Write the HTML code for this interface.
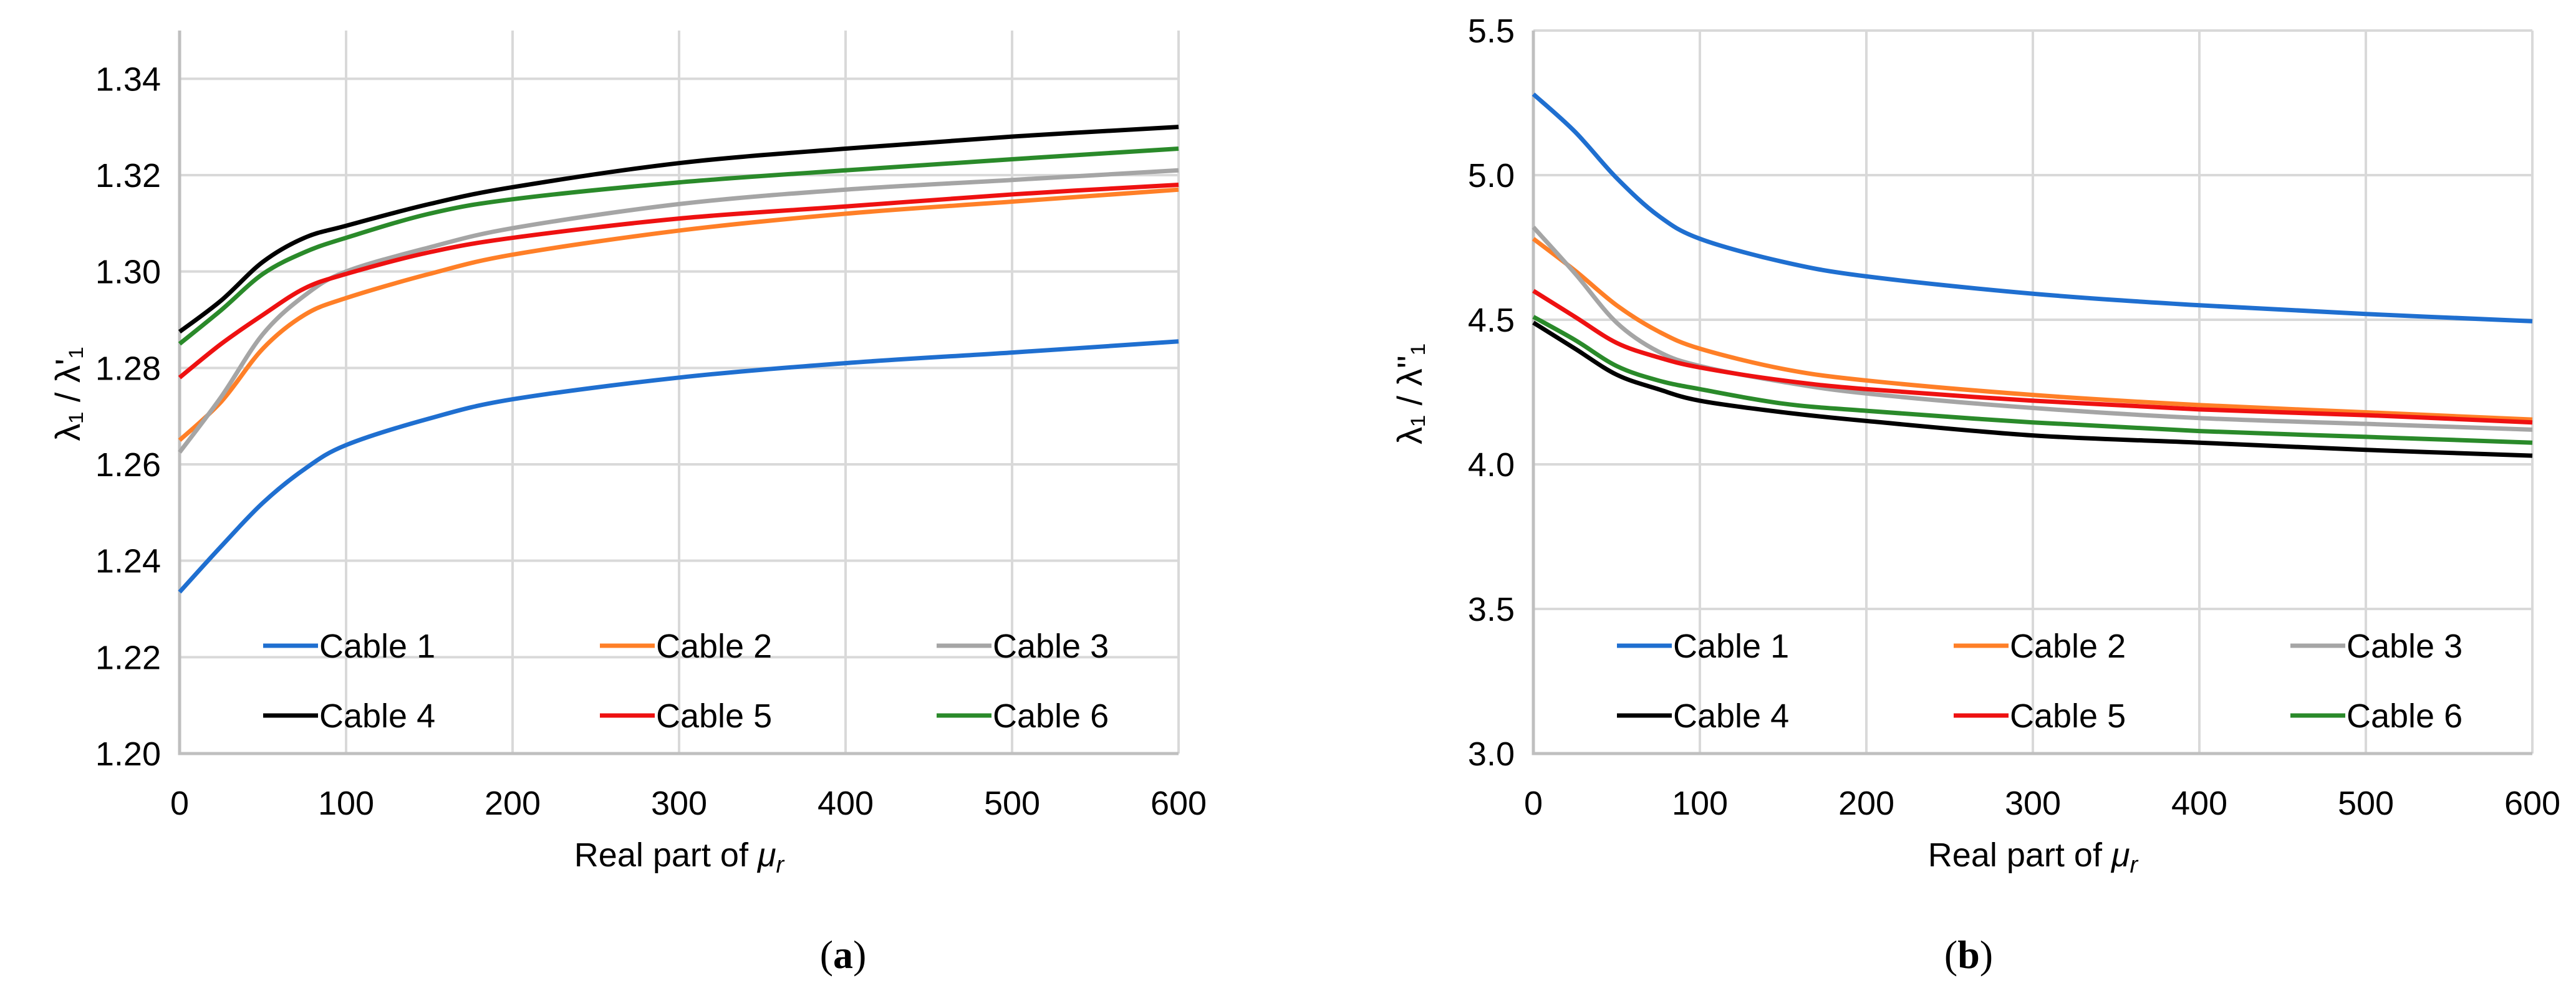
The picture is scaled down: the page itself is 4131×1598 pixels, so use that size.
<!DOCTYPE html>
<html><head><meta charset="utf-8"><style>
html,body{margin:0;padding:0;background:#fff;}
svg{display:block;font-family:"Liberation Sans",sans-serif;}
</style></head><body>
<svg id="fig" width="4131" height="1598" viewBox="0 0 4131 1598" xmlns="http://www.w3.org/2000/svg"></svg>
<script>
const xValues = [0,25,50,75,100,150,200,300,400,500,600];
const seriesNames = ["Cable 1","Cable 2","Cable 3","Cable 4","Cable 5","Cable 6"];
const colors = ["#1f6fd0","#ff7f27","#a5a5a5","#000000","#ee1111","#2a8a2a"];
const aCable1 = [1.2335,1.243,1.252,1.259,1.264,1.2695,1.2735,1.278,1.281,1.2832,1.2855];
const aCable2 = [1.265,1.273,1.284,1.291,1.2945,1.2995,1.3035,1.3085,1.312,1.3145,1.317];
const aCable3 = [1.2625,1.274,1.287,1.295,1.300,1.305,1.309,1.314,1.317,1.319,1.321];
const aCable4 = [1.2875,1.294,1.302,1.307,1.3095,1.314,1.3175,1.3225,1.3255,1.328,1.330];
const aCable5 = [1.278,1.285,1.291,1.2965,1.2995,1.304,1.307,1.311,1.3135,1.316,1.318];
const aCable6 = [1.285,1.292,1.2995,1.304,1.307,1.312,1.315,1.3185,1.321,1.3233,1.3255];
const bCable1 = [5.28,5.15,4.99,4.86,4.78,4.70,4.65,4.59,4.55,4.52,4.495];
const bCable2 = [4.78,4.67,4.55,4.46,4.40,4.33,4.29,4.24,4.205,4.18,4.155];
const bCable3 = [4.82,4.66,4.49,4.39,4.34,4.285,4.245,4.195,4.16,4.14,4.12];
const bCable4 = [4.49,4.40,4.31,4.26,4.22,4.18,4.15,4.10,4.075,4.05,4.03];
const bCable5 = [4.60,4.51,4.42,4.37,4.335,4.29,4.26,4.22,4.19,4.17,4.145];
const bCable6 = [4.51,4.43,4.34,4.29,4.26,4.21,4.185,4.145,4.115,4.095,4.075];
const xTicks = [0,100,200,300,400,500,600];
const aYTicks = ["1.20","1.22","1.24","1.26","1.28","1.30","1.32","1.34"];
const bYTicks = ["3.0","3.5","4.0","4.5","5.0","5.5"];

const NS="http://www.w3.org/2000/svg";
const svg=document.getElementById('fig');
function mk(tag,attrs,parent,text){const e=document.createElementNS(NS,tag);for(const k in attrs)e.setAttribute(k,attrs[k]);if(text!==undefined)e.textContent=text;(parent||svg).appendChild(e);return e;}
function smooth(pts){let d="M"+pts[0][0]+","+pts[0][1];for(let i=0;i<pts.length-1;i++){const p0=pts[i-1]||pts[i],p1=pts[i],p2=pts[i+1],p3=pts[i+2]||p2;const c1=[p1[0]+(p2[0]-p0[0])/6,p1[1]+(p2[1]-p0[1])/6],c2=[p2[0]-(p3[0]-p1[0])/6,p2[1]-(p3[1]-p1[1])/6];d+=" C"+c1[0]+","+c1[1]+" "+c2[0]+","+c2[1]+" "+p2[0]+","+p2[1];}return d;}

function chart(id,L,yMin,yMax,yTop,yTicks,series,yTitleText,yTitleX,panel,panelX){
  const R=L+1602,B=1209,T=49;
  const g=mk('g',{},svg);
  
  
  const sx=v=>L+(v-0)/600*(R-L);
  const sy=v=>B-(v-yMin)/(yTop-yMin)*(B-T);
  // gridlines
  yTicks.forEach(t=>{const v=parseFloat(t);const y=sy(v);
    const gl=mk('line',{x1:L,x2:R,y1:y,y2:y,stroke:"#d9d9d9","stroke-width":4},g);
    
    const tl=mk('text',{x:L-30,y:y+19,"text-anchor":"end","font-size":54,fill:"#000"},g,t);
    
  });
  xTicks.forEach(t=>{const x=sx(t);
    const gl=mk('line',{x1:x,x2:x,y1:T,y2:B,stroke:"#d9d9d9","stroke-width":4},g);
    
    const tl=mk('text',{x:x,y:1307,"text-anchor":"middle","font-size":54,fill:"#000"},g,String(t));
    
  });
  const ax=mk('path',{d:`M${L},${T} L${L},${B} L${R},${B}`,fill:"none",stroke:"#bfbfbf","stroke-width":5},g);
  
  series.forEach((s,i)=>{
    const p=mk('path',{d:smooth(xValues.map((x,j)=>[sx(x),sy(s[j])])),fill:"none",stroke:colors[i],"stroke-width":7,"stroke-linejoin":"round"},g);
    
  });
  // legend
  seriesNames.forEach((n,i)=>{
    const col=i%3,row=Math.floor(i/3);
    const lx=L+134+col*540, ly=row?1148:1036;
    const lg=mk('g',{},g);
    
    mk('line',{x1:lx,x2:lx+88,y1:ly,y2:ly,stroke:colors[i],"stroke-width":7},lg);
    mk('text',{x:lx+90,y:ly+19,"font-size":54,fill:"#000"},lg,n);
  });
  const xt=mk('text',{x:(L+R)/2,y:1390,"text-anchor":"middle","font-size":54,fill:"#000"},g);
  
  xt.appendChild(document.createTextNode("Real part of "));
  mk('tspan',{"font-style":"italic"},xt,"μ");
  mk('tspan',{"font-style":"italic","font-size":38,dy:10},xt,"r");
  const yt=mk('text',{x:0,y:0,"text-anchor":"middle","font-size":56,fill:"#000",transform:`translate(${yTitleX},632) rotate(-90)`},g,yTitleText);
  
  const pl=mk('text',{x:panelX,y:1553,"text-anchor":"middle","font-size":64,"font-family":"Liberation Serif, serif",fill:"#000"},g);
  
  pl.appendChild(document.createTextNode("("));mk('tspan',{"font-weight":"bold"},pl,panel);pl.appendChild(document.createTextNode(")"));
}
chart('chart-a',288,1.20,1.34,1.35,aYTicks,[aCable1,aCable2,aCable3,aCable4,aCable5,aCable6],"λ₁ / λ'₁",128,"a",1352);
chart('chart-b',2459,3.0,5.5,5.5,bYTicks,[bCable1,bCable2,bCable3,bCable4,bCable5,bCable6],"λ₁ / λ''₁",2280,"b",3157);
</script>
</body></html>
